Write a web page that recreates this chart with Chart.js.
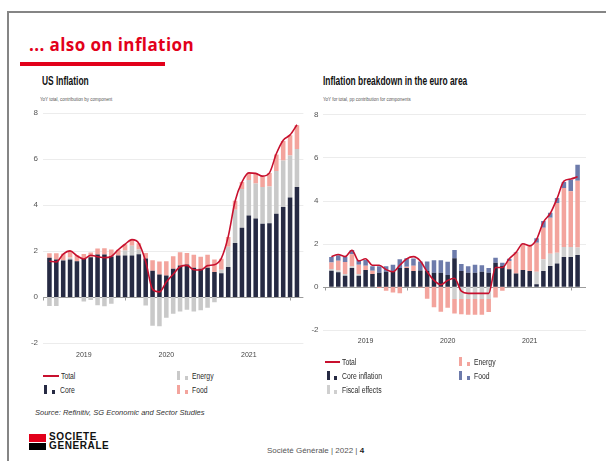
<!DOCTYPE html>
<html>
<head>
<meta charset="utf-8">
<script src="https://cdn.jsdelivr.net/npm/chart.js@4.4.1/dist/chart.umd.min.js"></script>
<style>
  html, body { margin: 0; padding: 0; background: #fff; }
  body { width: 606px; height: 461px; position: relative; overflow: hidden; }
  .abs { position: absolute; white-space: nowrap; transform-origin: 0 50%; }
  .sans { font-family: "Liberation Sans", Arial, sans-serif; }
  .frame { position: absolute; left: 7px; top: 11px; width: 610px; height: 460px;
           border-top: 2px solid #858585; border-left: 2px solid #858585; }
  .headline { left: 29px; top: 35px; font: 700 17px/20px "Open Sans", Lato, sans-serif; letter-spacing: 0.4px; color: #e2001a; }
  .rule { position: absolute; left: 20px; top: 62px; width: 145px; height: 4px; background: #e2001a; }
  .title { top: 75px; font-size: 12px; line-height: 12px; font-weight: 700; color: #111; transform: scaleX(0.7); }
  .sub { top: 95.5px; font-size: 5.5px; line-height: 6px; color: #555; transform: scaleX(0.81); }
  .leg { font-size: 8.5px; line-height: 10px; color: #2a2a2a; transform: scaleX(0.8); }
  .swatch { position: absolute; width: 3px; }
  .source { left: 35px; top: 408px; font: italic 7.5px/10px "Liberation Sans", Arial, sans-serif; color: #333; }
  .logo-red { position: absolute; left: 29px; top: 434px; width: 17px; height: 7.5px; background: #e2001a; }
  .logo-black { position: absolute; left: 29px; top: 442.5px; width: 17px; height: 7.5px; background: #000; }
  .logo-text { left: 49px; top: 433px; font: 700 10px/8.6px "Liberation Sans", Arial, sans-serif; letter-spacing: 0.6px; color: #111; }
  .footer { left: 267px; top: 446px; font: 8px/9px "Liberation Sans", Arial, sans-serif; color: #555; }
  canvas { position: absolute; }
</style>
</head>
<body>
<div class="frame"></div>
<div class="abs headline">... also on inflation</div>
<div class="rule"></div>

<div class="abs title sans" style="left:41.5px">US Inflation</div>
<div class="abs sub sans" style="left:40px">YoY total, contribution by component</div>
<div class="abs title sans" style="left:322.5px">Inflation breakdown in the euro area</div>
<div class="abs sub sans" style="left:322.5px">YoY for total, pp contribution for components</div>

<canvas id="usChart" width="285" height="265" style="left:20px; top:100px"></canvas>
<canvas id="euChart" width="286" height="252" style="left:300px; top:100px"></canvas>

<!-- US legend -->
<div class="swatch" style="left:43px; top:375.3px; width:16px; height:1.6px; background:#c8102e"></div>
<div class="abs leg sans" style="left:61px; top:371px">Total</div>
<div class="swatch" style="left:176.5px; top:371px; height:9px; background:#c9c9c9"></div>
<div class="swatch" style="left:184.5px; top:375.5px; height:4.5px; background:#c9c9c9"></div>
<div class="abs leg sans" style="left:191.5px; top:371px">Energy</div>
<div class="swatch" style="left:43.5px; top:385px; height:9px; background:#262a43"></div>
<div class="swatch" style="left:51.5px; top:389.5px; height:4.5px; background:#262a43"></div>
<div class="abs leg sans" style="left:60px; top:385px">Core</div>
<div class="swatch" style="left:176.5px; top:385px; height:9px; background:#f3a49d"></div>
<div class="swatch" style="left:184.5px; top:389.5px; height:4.5px; background:#f3a49d"></div>
<div class="abs leg sans" style="left:191.5px; top:385px">Food</div>

<!-- euro area legend -->
<div class="swatch" style="left:325px; top:361.2px; width:15px; height:1.6px; background:#c8102e"></div>
<div class="abs leg sans" style="left:342px; top:357px">Total</div>
<div class="swatch" style="left:458.5px; top:357px; height:9px; background:#f3a49d"></div>
<div class="swatch" style="left:466.5px; top:361.5px; height:4.5px; background:#f3a49d"></div>
<div class="abs leg sans" style="left:474px; top:357px">Energy</div>
<div class="swatch" style="left:327px; top:371px; height:9px; background:#262a43"></div>
<div class="swatch" style="left:333.5px; top:375.5px; height:4.5px; background:#262a43"></div>
<div class="abs leg sans" style="left:342px; top:371px">Core inflation</div>
<div class="swatch" style="left:458.5px; top:371px; height:9px; background:#6d7bab"></div>
<div class="swatch" style="left:466.5px; top:375.5px; height:4.5px; background:#6d7bab"></div>
<div class="abs leg sans" style="left:474px; top:371px">Food</div>
<div class="swatch" style="left:327px; top:385px; height:9px; background:#cfcfcf"></div>
<div class="swatch" style="left:333.5px; top:389.5px; height:4.5px; background:#cfcfcf"></div>
<div class="abs leg sans" style="left:342px; top:385px">Fiscal effects</div>

<div class="abs source">Source: Refinitiv, SG Economic and Sector Studies</div>
<div class="logo-red"></div>
<div class="logo-black"></div>
<div class="abs logo-text">SOCIETE<br>GENERALE</div>
<div class="abs footer">Société Générale | 2022 | <b style="color:#222">4</b></div>

<script>
// monthly observations, Jan 2019 - Jan 2022
const months = [
  "Jan 19", "Feb 19", "Mar 19", "Apr 19", "May 19", "Jun 19", "Jul 19", "Aug 19", "Sep 19", "Oct 19", "Nov 19", "Dec 19",
  "Jan 20", "Feb 20", "Mar 20", "Apr 20", "May 20", "Jun 20", "Jul 20", "Aug 20", "Sep 20", "Oct 20", "Nov 20", "Dec 20",
  "Jan 21", "Feb 21", "Mar 21", "Apr 21", "May 21", "Jun 21", "Jul 21", "Aug 21", "Sep 21", "Oct 21", "Nov 21", "Dec 21",
  "Jan 22"
];
const yearTicks = ["2019", "2020", "2021"];

// US CPI, % y/y and contributions
const usTotal = [1.55, 1.52, 1.86, 2.00, 1.79, 1.65, 1.81, 1.75, 1.71, 1.76, 2.05, 2.29,
  2.49, 2.33, 1.54, 0.33, 0.22, 0.65, 0.99, 1.31, 1.37, 1.18, 1.17, 1.36,
  1.40, 1.68, 2.62, 4.16, 4.99, 5.39, 5.37, 5.25, 5.39, 6.22, 6.81, 7.04, 7.48];
const usCore = [1.70, 1.63, 1.58, 1.63, 1.55, 1.65, 1.73, 1.84, 1.84, 1.76, 1.80, 1.80,
  1.80, 1.86, 1.67, 1.14, 0.98, 0.93, 1.23, 1.37, 1.41, 1.27, 1.23, 1.27,
  1.08, 1.03, 1.30, 2.34, 3.01, 3.54, 3.41, 3.18, 3.20, 3.62, 3.91, 4.32, 4.78];
const usEnergy = [-0.39, -0.39, 0.02, 0.08, -0.02, -0.20, -0.13, -0.36, -0.40, -0.30, 0.00, 0.22,
  0.42, 0.20, -0.37, -1.25, -1.27, -0.90, -0.73, -0.63, -0.56, -0.63, -0.58, -0.47,
  -0.23, 0.15, 0.88, 1.45, 1.68, 1.54, 1.52, 1.60, 1.60, 1.85, 2.02, 1.83, 1.65];
const usFood = [0.20, 0.27, 0.28, 0.29, 0.26, 0.22, 0.20, 0.27, 0.28, 0.30, 0.25, 0.27,
  0.25, 0.27, 0.24, 0.45, 0.56, 0.62, 0.54, 0.57, 0.50, 0.56, 0.52, 0.56,
  0.55, 0.48, 0.42, 0.39, 0.30, 0.29, 0.44, 0.47, 0.59, 0.72, 0.85, 0.88, 1.03];

// euro area HICP, % y/y and pp contributions
const euTotal = [1.4, 1.5, 1.4, 1.7, 1.2, 1.3, 1.0, 1.0, 0.8, 0.7, 1.0, 1.3,
  1.4, 1.2, 0.7, 0.3, 0.1, 0.3, 0.4, -0.2, -0.3, -0.3, -0.3, -0.3,
  0.9, 0.9, 1.3, 1.6, 2.0, 1.9, 2.2, 3.0, 3.4, 4.1, 4.9, 5.0, 5.1];
const euCore = [0.75, 0.68, 0.52, 0.88, 0.52, 0.78, 0.60, 0.65, 0.70, 0.73, 0.88, 0.88,
  0.73, 0.76, 0.73, 0.65, 0.65, 0.55, 1.33, 0.73, 0.65, 0.65, 0.70, 0.65,
  1.12, 0.97, 0.82, 0.62, 0.78, 0.74, 0.12, 0.74, 0.97, 1.08, 1.38, 1.38, 1.48];
const euFiscal = [0.08, 0.08, 0.08, 0.08, 0.08, 0, 0, 0, 0, 0, 0, 0,
  0, 0, 0, 0, 0, 0, -0.56, -0.56, -0.56, -0.56, -0.56, -0.56,
  0, 0, 0, 0, 0, 0, 0.58, 0.54, 0.57, 0.50, 0.47, 0.47, 0.34];
const euEnergy = [0.30, 0.45, 0.55, 0.55, 0.42, 0.20, 0.15, -0.05, -0.18, -0.26, -0.30, 0.05,
  0.25, -0.03, -0.55, -0.95, -1.15, -0.97, -0.68, -0.71, -0.73, -0.73, -0.73, -0.61,
  -0.49, -0.18, 0.38, 0.96, 1.19, 1.16, 1.35, 1.46, 1.66, 2.31, 2.73, 2.58, 3.10];
const euFood = [0.25, 0.25, 0.25, 0.20, 0.22, 0.27, 0.20, 0.30, 0.25, 0.30, 0.40, 0.40,
  0.33, 0.42, 0.45, 0.58, 0.58, 0.61, 0.38, 0.33, 0.30, 0.38, 0.30, 0.23,
  0.23, 0.15, 0.10, 0.02, 0.03, 0.00, 0.20, 0.31, 0.23, 0.23, 0.28, 0.54, 0.74];

const RED = "#c8102e";
const NAVY = "#262a43";
const FONT = '"Liberation Sans", Arial, sans-serif';

// horizontal grid a little wider than the bars, darker zero line with year-end ticks
const sgGrid = {
  id: "sgGrid",
  beforeDatasetsDraw(chart, args, opts) {
    const { ctx, chartArea: a, scales: { x, y } } = chart;
    const ext = opts.extend || 3;
    ctx.save();
    ctx.lineWidth = 1;
    y.ticks.forEach(t => {
      const py = Math.round(y.getPixelForValue(t.value)) + 0.5;
      ctx.strokeStyle = t.value === 0 ? "#9b9b9b" : "#ececec";
      ctx.beginPath();
      ctx.moveTo(a.left - ext, py);
      ctx.lineTo(a.right + ext, py);
      ctx.stroke();
    });
    const y0 = Math.round(y.getPixelForValue(0)) + 0.5;
    const step = x.getPixelForValue(1) - x.getPixelForValue(0);
    ctx.strokeStyle = "#9b9b9b";
    [-1, 11, 23, 35].forEach(i => {
      const px = Math.round(x.getPixelForValue(0) + i * step) + 0.5;
      ctx.beginPath();
      ctx.moveTo(px, y0);
      ctx.lineTo(px, y0 + 3);
      ctx.stroke();
    });
    ctx.restore();
  }
};

function buildChart(id, total, parts, axis) {
  const datasets = [{
    type: "line",
    label: "Total",
    data: total,
    stack: "total",
    order: 0,
    borderColor: RED,
    borderWidth: 1.6,
    pointRadius: 0,
    cubicInterpolationMode: "monotone",
    fill: false
  }];
  parts.forEach(p => datasets.push({
    label: p.label,
    data: p.data,
    backgroundColor: p.color,
    stack: "parts",
    order: 1,
    barPercentage: 0.66,
    categoryPercentage: 1
  }));

  return new Chart(document.getElementById(id), {
    type: "bar",
    data: { labels: months, datasets: datasets },
    plugins: [sgGrid],
    options: {
      responsive: false,
      animation: false,
      layout: { padding: { top: 10, right: axis.padRight, left: 0, bottom: 0 } },
      plugins: {
        legend: { display: false },
        tooltip: { enabled: false },
        sgGrid: { extend: axis.extend }
      },
      scales: {
        x: {
          grid: { display: false, drawTicks: false },
          border: { display: false },
          afterFit: s => { s.height = 22; },
          ticks: {
            autoSkip: false,
            maxRotation: 0,
            padding: axis.xPad,
            color: "#444",
            font: { family: FONT, size: 7 },
            callback: (v, i) => (i % 12 === 5 ? yearTicks[(i - 5) / 12] : "")
          }
        },
        y: {
          stacked: true,
          min: -2,
          max: 8,
          grid: { display: false, drawTicks: false },
          border: { display: false },
          afterFit: s => { s.width = axis.yWidth; },
          ticks: {
            stepSize: 2,
            padding: axis.yPad,
            color: "#555",
            font: { family: FONT, size: 8 }
          }
        }
      }
    }
  });
}

buildChart("usChart", usTotal, [
  { label: "Core", data: usCore, color: NAVY },
  { label: "Energy", data: usEnergy, color: "#c9c9c9" },
  { label: "Food", data: usFood, color: "#f3a49d" }
], { yWidth: 26, yPad: 8, xPad: 8, padRight: 4, extend: 3 });

buildChart("euChart", euTotal, [
  { label: "Core inflation", data: euCore, color: NAVY },
  { label: "Fiscal effects", data: euFiscal, color: "#cfcfcf" },
  { label: "Energy", data: euEnergy, color: "#f3a49d" },
  { label: "Food", data: euFood, color: "#6d7bab" }
], { yWidth: 28, yPad: 9.5, xPad: 7, padRight: 5, extend: 5 });
</script>
</body>
</html>
